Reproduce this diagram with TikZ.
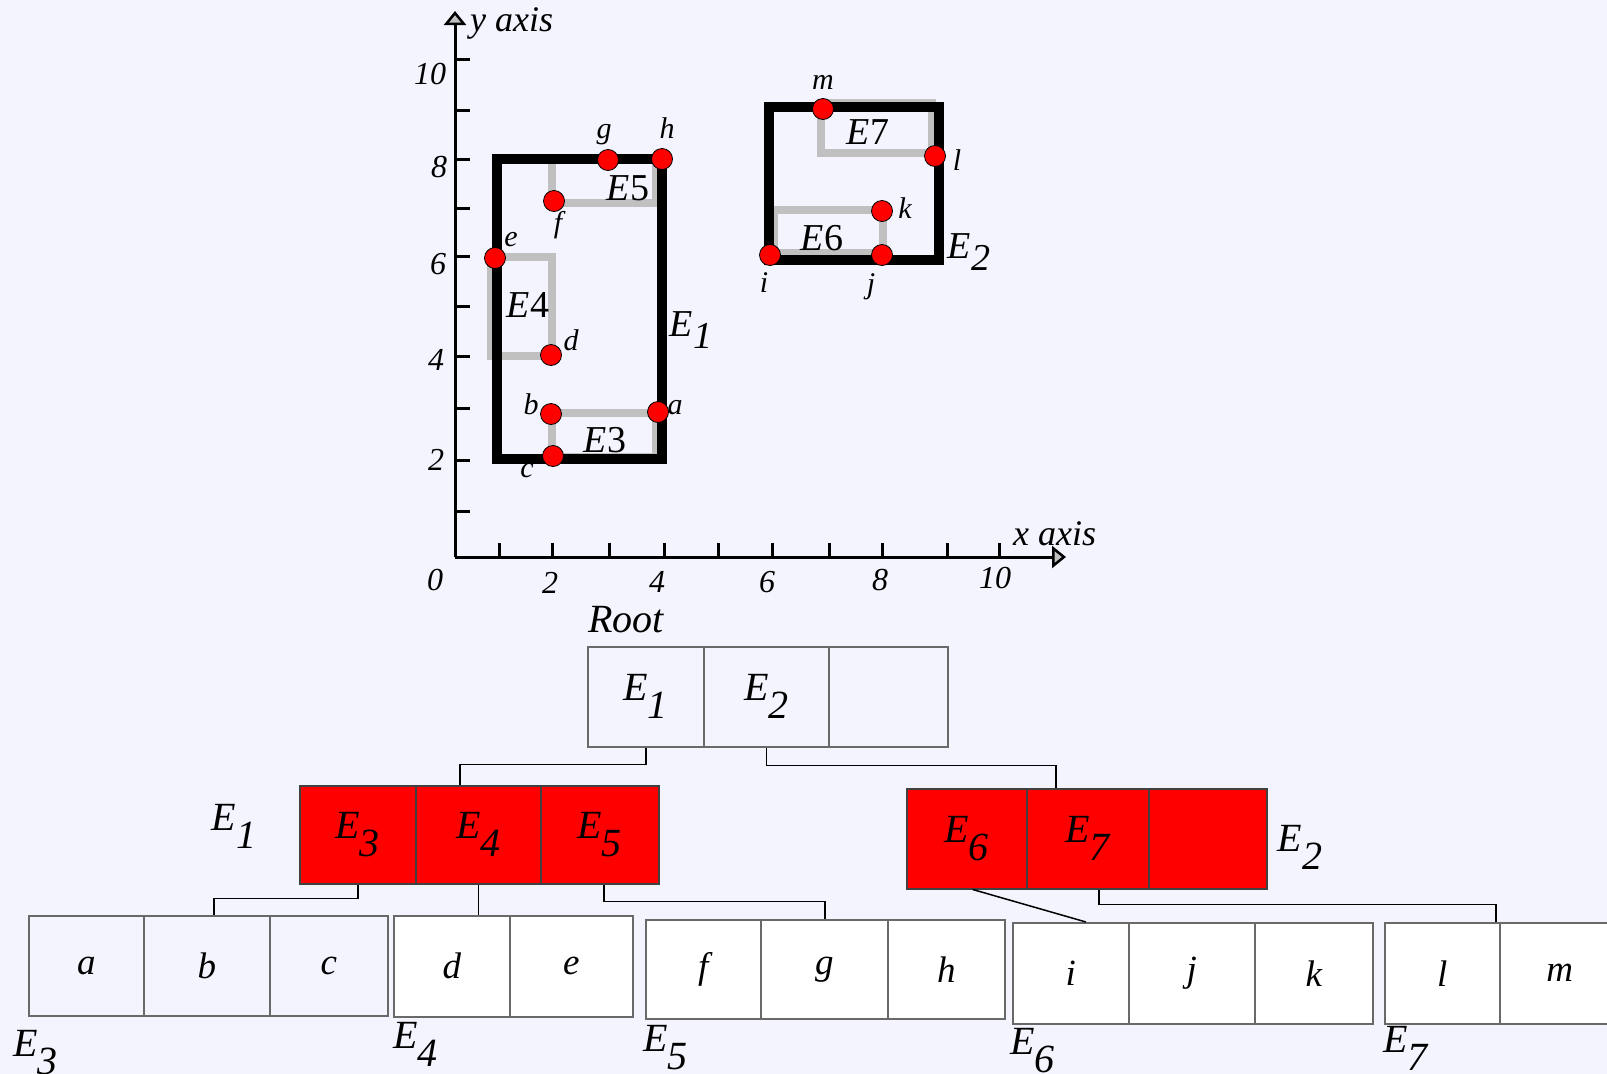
\documentclass[tikz,border=0pt]{standalone}
\usepackage{fontspec}
\setmainfont{Liberation Serif}
\usetikzlibrary{arrows.meta}

\definecolor{bg}{RGB}{244,244,254}
\definecolor{mbr}{RGB}{192,192,192}
\definecolor{edge}{RGB}{105,105,105}

% E with a full-size, lowered index
\newcommand\Esub[2][0.45em]{\textit{E}\raisebox{-#1}{\textit{#2}}}
\newcommand\fTree{\fontsize{40}{44}\selectfont\itshape}
\newcommand\fLeaf{\fontsize{37}{40}\selectfont\itshape}
\newcommand\fAxis{\fontsize{32}{34}\selectfont\itshape}
\newcommand\fAxisName{\fontsize{36}{40}\selectfont\itshape}
\newcommand\fPoint{\fontsize{30}{32}\selectfont\itshape}
\newcommand\fRect{\fontsize{38}{40}\selectfont}

\begin{document}
\begin{tikzpicture}[x=1pt,y=-1pt,
  axis/.style={draw=black, line width=3pt},
  axistip/.style={-{Triangle[length=14pt, width=22pt, fill=mbr, line width=2.5pt]}},
  mbrline/.style={draw=mbr, line width=8pt, line join=miter},
  outer/.style={draw=black, line width=10pt, line join=miter},
  redpt/.style={circle, fill=red, draw=black, line width=0.8pt, minimum size=21pt, inner sep=0pt},
  plabel/.style={font=\fPoint, inner sep=0pt},
  ticklbl/.style={font=\fAxis, inner sep=0pt},
  rectlbl/.style={font=\fRect, inner sep=0pt},
  treelbl/.style={font=\fTree, inner sep=0pt},
  cell/.style={draw=edge, line width=1.5pt, anchor=north west, inner sep=0pt,
    minimum height=100pt, font=\fLeaf},
  rootcell/.style={cell, font=\fTree},
  redcell/.style={cell, draw=black!75, fill=red, font=\fTree},
  leafcell/.style={cell, fill=white},
  link/.style={draw=black, line width=1.5pt}]

\useasboundingbox (0,0) rectangle (1607,1074);
\fill[bg] (0,0) rectangle (1607,1074);

% ---------- coordinate plane ----------
\draw[axis, axistip] (455,557) -- (455,11);
\draw[axis, axistip] (455,557) -- (1066,557);
\foreach \ty in {59,110,159,208,256,306,356,408,460,511}
  \draw[axis] (455,\ty) -- (470,\ty);
\foreach \tx in {499,552,609,664,718,772,829,882,947,999}
  \draw[axis] (\tx,557) -- (\tx,543);

\node[font=\fAxisName, inner sep=0pt, anchor=base west] (yname) at (470,31) {y axis};
\node[font=\fAxisName, inner sep=0pt, anchor=base west] (xname) at (1013,545) {x axis};

\node[ticklbl] (y10) at (430,74) {10};
\node[ticklbl] (y8) at (439,167) {8};
\node[ticklbl] (y6) at (438,264) {6};
\node[ticklbl] (y4) at (436,360) {4};
\node[ticklbl] (y2) at (436,460) {2};
\node[ticklbl] (x0) at (435,580) {0};
\node[ticklbl] (x2) at (550,583) {2};
\node[ticklbl] (x4) at (657,582) {4};
\node[ticklbl] (x6) at (767,582) {6};
\node[ticklbl] (x8) at (880,580) {8};
\node[ticklbl] (x10) at (995,578) {10};

% leaf bounding rectangles
\draw[mbrline] (552,413) rectangle (656,457);   % E3
\draw[mbrline] (491,257) rectangle (552,356);   % E4
\draw[mbrline] (552,160) rectangle (656,203);   % E5
\draw[mbrline] (774,210) rectangle (883,253);   % E6
\draw[mbrline] (821,103) rectangle (932,153);   % E7

% internal bounding rectangles
\draw[outer] (497,159) rectangle (662,459);     % E1
\draw[outer] (769,107) rectangle (939,260);     % E2

\node[rectlbl] (tE3) at (605,440) {\textit{E}3};
\node[rectlbl] (tE4) at (528,305) {\textit{E}4};
\node[rectlbl] (tE5) at (628,188) {\textit{E}5};
\node[rectlbl] (tE6) at (822,238) {\textit{E}6};
\node[rectlbl] (tE7) at (868,132) {\textit{E}7};
\node[rectlbl] (tE1) at (691,330) {\Esub[0.3em]{1}};
\node[rectlbl] (tE2) at (969,252) {\Esub[0.3em]{2}};

% data points
\node[redpt] (pa) at (658,412) {};
\node[redpt] (pb) at (551,414) {};
\node[redpt] (pc) at (553,456) {};
\node[redpt] (pd) at (551,355) {};
\node[redpt] (pe) at (495,258) {};
\node[redpt] (pf) at (554,201) {};
\node[redpt] (pg) at (608,160) {};
\node[redpt] (ph) at (662,159) {};
\node[redpt] (pi) at (770,255) {};
\node[redpt] (pj) at (882,255) {};
\node[redpt] (pk) at (882,211) {};
\node[redpt] (pl) at (935,156) {};
\node[redpt] (pm) at (823,109) {};

\node[plabel] (ta) at (675,408) {a};
\node[plabel] (tb) at (531,404) {b};
\node[plabel] (tc) at (527,471) {c};
\node[plabel] (td) at (571,340) {d};
\node[plabel] (te) at (511,240) {e};
\node[plabel] (tf) at (558,225) {f};
\node[plabel] (tg) at (604,135) {g};
\node[plabel] (th) at (667,128) {h};
\node[plabel] (ti) at (764,283) {i};
\node[plabel] (tj) at (871,287) {j};
\node[plabel] (tk) at (905,208) {k};
\node[plabel] (tl) at (957,160) {l};
\node[plabel] (tm) at (823,82) {m};

% ---------- R-tree ----------
\node[treelbl] (rootname) at (626,620) {Root};
\node[rootcell, minimum width=116pt] (r1) at (587,646) {\Esub{1}};
\node[rootcell, minimum width=125pt] (r2) at (703,646) {\Esub{2}};
\node[rootcell, minimum width=119pt] (r3) at (828,646) {};

\node[treelbl] (nE1) at (234,826) {\Esub{1}};
\node[redcell, minimum width=116pt, minimum height=98pt] (p3) at (299,785) {\Esub{3}};
\node[redcell, minimum width=125pt, minimum height=98pt] (p4) at (415,785) {\Esub{4}};
\node[redcell, minimum width=118pt, minimum height=98pt] (p5) at (540,785) {\Esub{5}};

\node[treelbl] (nE2) at (1300,847) {\Esub{2}};
\node[redcell, minimum width=120pt] (p6) at (906,788) {\Esub{6}};
\node[redcell, minimum width=122pt] (p7) at (1026,788) {\Esub{7}};
\node[redcell, minimum width=118pt] (p8) at (1148,788) {};

\node[cell, minimum width=115pt] (la) at (28,915) {a};
\node[cell, minimum width=126pt] (lb) at (143,915) {b};
\node[cell, minimum width=118pt] (lc) at (269,915) {c};

\node[leafcell, minimum width=116pt, minimum height=101pt] (ld) at (393,915) {d};
\node[leafcell, minimum width=123pt, minimum height=101pt] (le) at (509,915) {e};

\node[leafcell, minimum width=115pt, minimum height=99pt] (lf) at (645,919) {f};
\node[leafcell, minimum width=127pt, minimum height=99pt] (lg) at (760,919) {g};
\node[leafcell, minimum width=117pt, minimum height=99pt] (lh) at (887,919) {h};

\node[leafcell, minimum width=116pt, minimum height=101pt] (li) at (1012,922) {i};
\node[leafcell, minimum width=126pt, minimum height=101pt] (lj) at (1128,922) {j};
\node[leafcell, minimum width=118pt, minimum height=101pt] (lk) at (1254,922) {k};

\node[leafcell, minimum width=115pt, minimum height=101pt] (ll) at (1384,922) {l};
\node[leafcell, minimum width=120pt, minimum height=101pt] (lm) at (1499,922) {m};

\node[treelbl, anchor=north west] (nE3) at (13,1030) {\Esub{3}};
\node[treelbl, anchor=north west] (nE4) at (393,1022) {\Esub{4}};
\node[treelbl, anchor=north west] (nE5) at (643,1025) {\Esub{5}};
\node[treelbl, anchor=north west] (nE6) at (1010,1028) {\Esub{6}};
\node[treelbl, anchor=north west] (nE7) at (1383,1026) {\Esub{7}};

% parent-child links
\coordinate (e1in) at (460,785);
\coordinate (e2in) at (1056,788);
\coordinate (e3in) at (214,915);
\coordinate (e5in) at (825,919);
\coordinate (e6in) at (1086,922);
\coordinate (e7in) at (1496,922);

\draw[link] (r1.south) -- ++(0,17) -| (e1in);
\draw[link] (r2.south) -- ++(0,18) -| (e2in);
\draw[link] (p3.south) -- ++(0,14) -| (e3in);
\draw[link] (p4.south) -- (p4.south |- ld.north);
\draw[link] ([xshift=4pt]p5.south) -- ++(0,17) -| (e5in);
\draw[link] ([xshift=6pt]p6.south) -- (e6in);
\draw[link] ([xshift=11pt]p7.south) -- ++(0,15) -| (e7in);

\end{tikzpicture}
\end{document}
